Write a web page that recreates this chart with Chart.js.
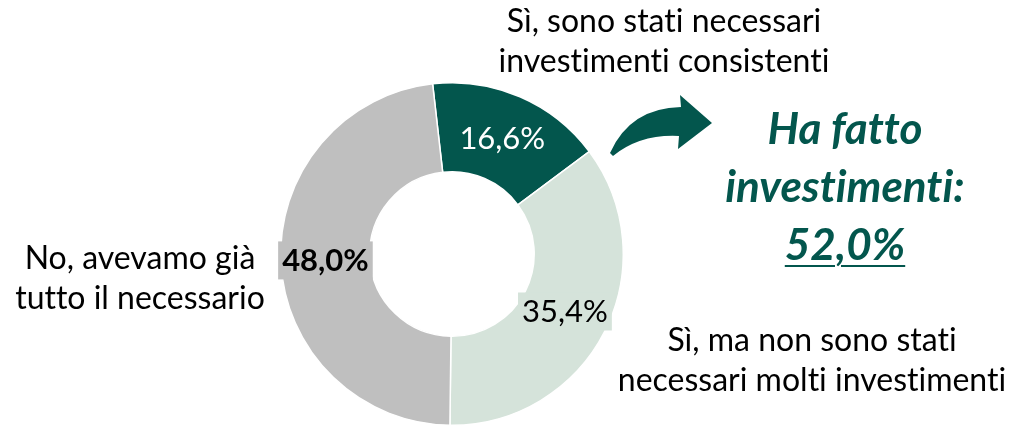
<!DOCTYPE html>
<html>
<head>
<meta charset="utf-8">
<script src="https://cdn.jsdelivr.net/npm/chart.js@4.4.0/dist/chart.umd.min.js"></script>
<style>
  body { margin: 0; background: #fff; }
  #wrap { position: relative; width: 1022px; height: 426px; font-family: Lato, "Open Sans", sans-serif; font-variant-ligatures: none; }
  canvas { position: absolute; left: 0; top: 0; }
  .lbl { position: absolute; font-size: 32px; line-height: 40px; color: #000; text-align: center; white-space: nowrap; }
  .big { position: absolute; font-size: 44px; line-height: 58px; color: #03564d; font-weight: bold; font-style: italic; text-align: center; white-space: nowrap; }
  .big u { text-decoration-thickness: 2px; text-underline-offset: 5px; }
</style>
</head>
<body>
<div id="wrap">
  <canvas id="donut" width="1022" height="426"></canvas>
  <div class="lbl" style="left:464px; top:0px; width:400px;">Sì, sono stati necessari<br>investimenti consistenti</div>
  <div class="lbl" style="left:0px; top:237px; width:280px;">No, avevamo già<br>tutto il necessario</div>
  <div class="lbl" style="left:601px; top:319px; width:422px;">Sì, ma non sono stati<br>necessari molti investimenti</div>
  <div class="big" style="left:705px; top:98px; width:280px;">Ha fatto<br>investimenti:<br><u>52,0%</u></div>
</div>
<script>
// dati
const categories = ['Sì, sono stati necessari investimenti consistenti', 'Sì, ma non sono stati necessari molti investimenti', 'No, avevamo già tutto il necessario'];
const values = [16.6, 35.4, 48.0];
const colors = ['#03564d', '#d5e3da', '#bfbfbf'];
const labelStyle = [
    { color: '#ffffff', bold: false, box: null },
    { color: '#000000', bold: false, box: '#d5e3da' },
    { color: '#000000', bold: true, box: '#bfbfbf' }
];

// etichette percentuali dentro le fette
const sliceLabels = {
    id: 'sliceLabels',
    afterDatasetsDraw(chart) {
        const ctx = chart.ctx;
        const meta = chart.getDatasetMeta(0);
        meta.data.forEach((arc, i) => {
            const p = arc.tooltipPosition();
            const st = labelStyle[i];
            const txt = values[i].toFixed(1).replace('.', ',') + '%';
            ctx.save();
            ctx.font = (st.bold ? 'bold ' : '') + '31px Lato, "Open Sans", sans-serif';
            ctx.textAlign = 'center';
            ctx.textBaseline = 'middle';
            if (st.box) {
                const w = ctx.measureText(txt).width + 8;
                ctx.fillStyle = st.box;
                ctx.fillRect(p.x - w / 2, p.y - 19, w, 38);
            }
            ctx.fillStyle = st.color;
            ctx.fillText(txt, p.x, p.y + 1);
            ctx.restore();
        });
    }
};

// freccia curva
const arrow = {
    id: 'arrow',
    afterDraw(chart) {
        const ctx = chart.ctx;
        ctx.save();
        ctx.fillStyle = '#03564d';
        ctx.beginPath();
        ctx.moveTo(610, 153);
        ctx.quadraticCurveTo(630, 108, 681, 107);
        ctx.lineTo(680, 95);
        ctx.lineTo(712, 123);
        ctx.lineTo(678, 149);
        ctx.lineTo(679, 136);
        ctx.quadraticCurveTo(640, 134, 613, 156);
        ctx.closePath();
        ctx.fill();
        ctx.restore();
    }
};

new Chart(document.getElementById('donut'), {
    type: 'doughnut',
    data: {
        labels: categories,
        datasets: [{
            data: values,
            backgroundColor: colors,
            borderColor: '#ffffff',
            borderWidth: 1.5
        }]
    },
    options: {
        responsive: false,
        animation: false,
        rotation: -6.5,
        cutout: '48%',
        layout: { padding: { top: 82, bottom: 0, left: 280, right: 398 } },
        plugins: { legend: { display: false }, tooltip: { enabled: false } }
    },
    plugins: [sliceLabels, arrow]
});
</script>
</body>
</html>
